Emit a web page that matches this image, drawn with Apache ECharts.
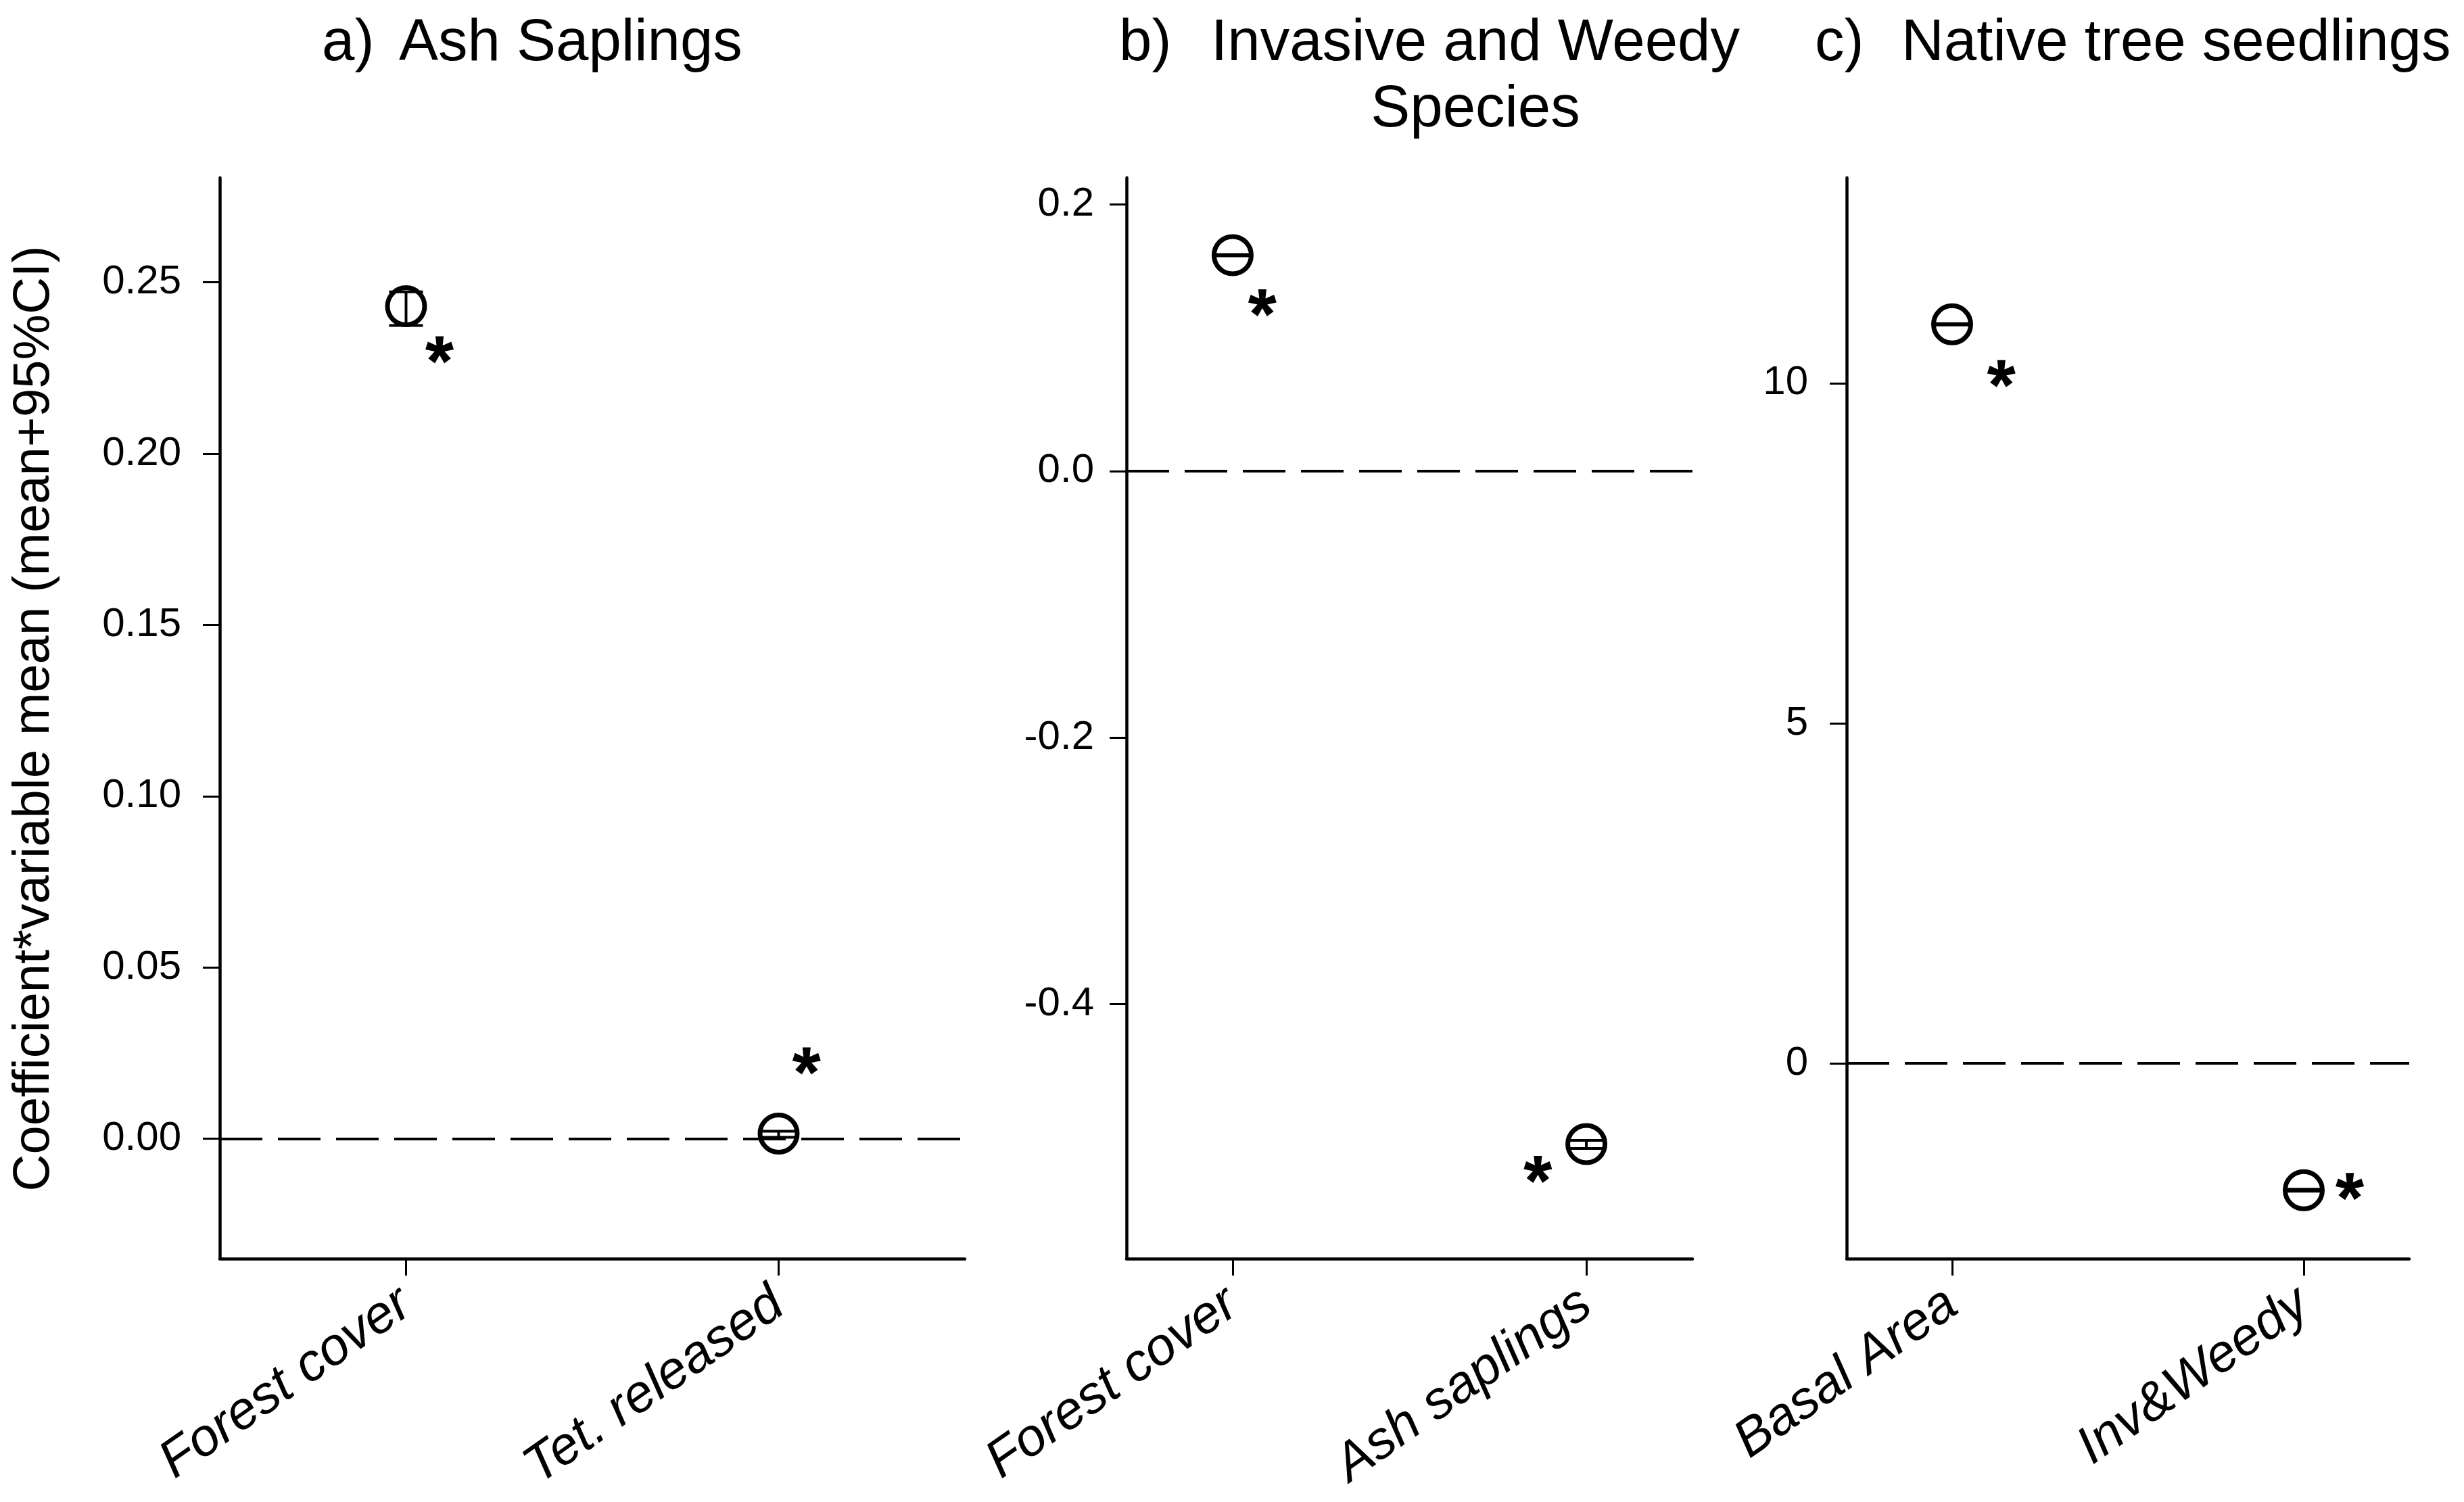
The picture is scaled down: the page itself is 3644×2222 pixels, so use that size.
<!DOCTYPE html>
<html>
<head>
<meta charset="utf-8">
<script src="https://cdn.jsdelivr.net/npm/echarts@6/dist/echarts.min.js"></script>
<style>
html,body{margin:0;padding:0;background:#fff;}
#chart{width:3644px;height:2222px;}
</style>
</head>
<body>
<div id="chart"></div>
<script>
// ---- data ----
const catA = ['Forest cover', 'Tet. released'];
const meanA = [0.243, 0.0015];
const loA = [0.2374, 0.0004];
const hiA = [0.2472, 0.0022];
const starA = [[1.09, 0.2303], [2.075, 0.0227]];
const ticksA = [0, 0.05, 0.10, 0.15, 0.20, 0.25];

const catB = ['Forest cover', 'Ash saplings'];
const meanB = [0.162, -0.505];
const loB = [0.1615, -0.5083];
const hiB = [0.1625, -0.5022];
const starB = [[1.084, 0.1263], [1.863, -0.524]];
const ticksB = [-0.4, -0.2, 0.0, 0.2];

const catC = ['Basal Area', 'Inv&Weedy'];
const meanC = [10.865, -1.864];
const loC = [10.855, -1.879];
const hiC = [10.875, -1.849];
const starC = [[1.14, 10.14], [2.131, -1.81]];
const ticksC = [0, 5, 10];

const titles = ['Ash Saplings', 'Invasive and Weedy\nSpecies', 'Native tree seedlings'];
const yName = 'Coefficient*variable mean (mean+95%CI)';

// ---- styling helpers ----
const FONT = '"Liberation Sans", Arial, Helvetica, sans-serif';

function asteriskPath() {
  const R = 50, w0 = 9, w1 = 15;
  const angles = [-90, -18, 54, 126, 198];
  let d = '';
  angles.forEach(a => {
    const t = a * Math.PI / 180;
    const ux = Math.cos(t), uy = Math.sin(t);
    const px = -uy, py = ux;
    const pts = [
      [50 + px * w0 - ux * 6, 50 + py * w0 - uy * 6],
      [50 + ux * R + px * w1, 50 + uy * R + py * w1],
      [50 + ux * R - px * w1, 50 + uy * R - py * w1],
      [50 - px * w0 - ux * 6, 50 - py * w0 - uy * 6]
    ];
    d += 'M' + pts.map(p => p[0].toFixed(2) + ' ' + p[1].toFixed(2)).join(' L') + ' Z ';
  });
  return 'path://' + d;
}
const STAR = asteriskPath();

const grids = [
  { left: 325, top: 263, width: 1102, height: 1599 },
  { left: 1666, top: 263, width: 837, height: 1599 },
  { left: 2731, top: 263, width: 832, height: 1599 }
];
const xRanges = [[0.5, 2.5], [0.7, 2.3], [0.7, 2.3]];
const yRanges = [[-0.035, 0.2805], [-0.591, 0.2201], [-2.87, 13.02]];
const cats = [catA, catB, catC];
const means = [meanA, meanB, meanC];
const los = [loA, loB, loC];
const his = [hiA, hiB, hiC];
const stars = [starA, starB, starC];
const yticks = [ticksA, ticksB, ticksC];
const yFmt = [v => v.toFixed(2), v => v.toFixed(1), v => v.toFixed(0)];
const yMargin = [57, 48, 57];

const xAxes = [], yAxes = [], series = [];
for (let i = 0; i < 3; i++) {
  const c = cats[i];
  xAxes.push({
    type: 'value', gridIndex: i, min: xRanges[i][0], max: xRanges[i][1],
    axisLine: { show: true, onZero: false, lineStyle: { color: '#000', width: 4.5 } },
    axisTick: { show: true, length: 25, customValues: [1, 2], lineStyle: { color: '#000', width: 3 } },
    axisLabel: {
      customValues: [1, 2], rotate: 35, margin: 60,
      fontSize: 78, fontStyle: 'italic', fontFamily: FONT, color: '#000',
      formatter: v => c[Math.round(v) - 1] || ''
    },
    splitLine: { show: false }
  });
  yAxes.push({
    type: 'value', gridIndex: i, min: yRanges[i][0], max: yRanges[i][1],
    axisLine: { show: true, onZero: false, lineStyle: { color: '#000', width: 4.5 } },
    axisTick: { show: true, length: 25, customValues: yticks[i], lineStyle: { color: '#000', width: 3 } },
    axisLabel: {
      customValues: yticks[i], margin: yMargin[i],
      fontSize: 60, fontFamily: FONT, color: '#000',
      formatter: yFmt[i]
    },
    splitLine: { show: false }
  });
  const errData = means[i].map((m, j) => [j + 1, los[i][j], his[i][j]]);
  series.push({
    type: 'custom', xAxisIndex: i, yAxisIndex: i, silent: true,
    data: errData,
    renderItem: (params, api) => {
      const x = api.value(0);
      const pLo = api.coord([x, api.value(1)]);
      const pHi = api.coord([x, api.value(2)]);
      const hw = 25;
      const st = { stroke: '#000', lineWidth: 4 };
      return {
        type: 'group', children: [
          { type: 'line', shape: { x1: pLo[0], y1: pLo[1], x2: pHi[0], y2: pHi[1] }, style: st },
          { type: 'line', shape: { x1: pLo[0] - hw, y1: pLo[1], x2: pLo[0] + hw, y2: pLo[1] }, style: st },
          { type: 'line', shape: { x1: pHi[0] - hw, y1: pHi[1], x2: pHi[0] + hw, y2: pHi[1] }, style: st }
        ]
      };
    },
    z: 3
  });
  series.push({
    type: 'scatter', xAxisIndex: i, yAxisIndex: i, silent: true,
    data: means[i].map((m, j) => [j + 1, m]),
    symbol: 'circle', symbolSize: 55,
    itemStyle: { color: 'rgba(0,0,0,0)', borderColor: '#000', borderWidth: 7, opacity: 1 },
    markLine: {
      silent: true, symbol: ['none', 'none'], animation: false,
      label: { show: false },
      lineStyle: { color: '#000', width: 4, type: [63, 23], opacity: 1 },
      data: [{ yAxis: 0 }]
    },
    z: 4
  });
  series.push({
    type: 'scatter', xAxisIndex: i, yAxisIndex: i, silent: true,
    data: stars[i],
    symbol: STAR, symbolSize: 42, symbolKeepAspect: true,
    itemStyle: { color: '#000', opacity: 1 },
    z: 5
  });
}

const graphic = [
  { type: 'text', x: 51, y: 1063, rotation: Math.PI / 2,
    style: { text: yName, font: '76px ' + FONT, fill: '#000', align: 'center', verticalAlign: 'middle' } },
  { type: 'text', x: 476, y: 65, style: { text: 'a)', font: '87px ' + FONT, fill: '#000', align: 'left', verticalAlign: 'middle' } },
  { type: 'text', x: 590, y: 65, style: { text: titles[0], font: '87px ' + FONT, fill: '#000', align: 'left', verticalAlign: 'middle' } },
  { type: 'text', x: 1655, y: 65, style: { text: 'b)', font: '87px ' + FONT, fill: '#000', align: 'left', verticalAlign: 'middle' } },
  { type: 'text', x: 2182, y: 16, style: { text: titles[1], font: '87px ' + FONT, fill: '#000', align: 'center', verticalAlign: 'top', lineHeight: 98 } },
  { type: 'text', x: 2684, y: 65, style: { text: 'c)', font: '87px ' + FONT, fill: '#000', align: 'left', verticalAlign: 'middle' } },
  { type: 'text', x: 2812, y: 65, style: { text: titles[2], font: '87px ' + FONT, fill: '#000', align: 'left', verticalAlign: 'middle' } }
];

const chart = echarts.init(document.getElementById('chart'));
chart.setOption({
  backgroundColor: '#fff',
  animation: false,
  grid: grids,
  xAxis: xAxes,
  yAxis: yAxes,
  series: series,
  graphic: graphic
});
</script>
</body>
</html>
